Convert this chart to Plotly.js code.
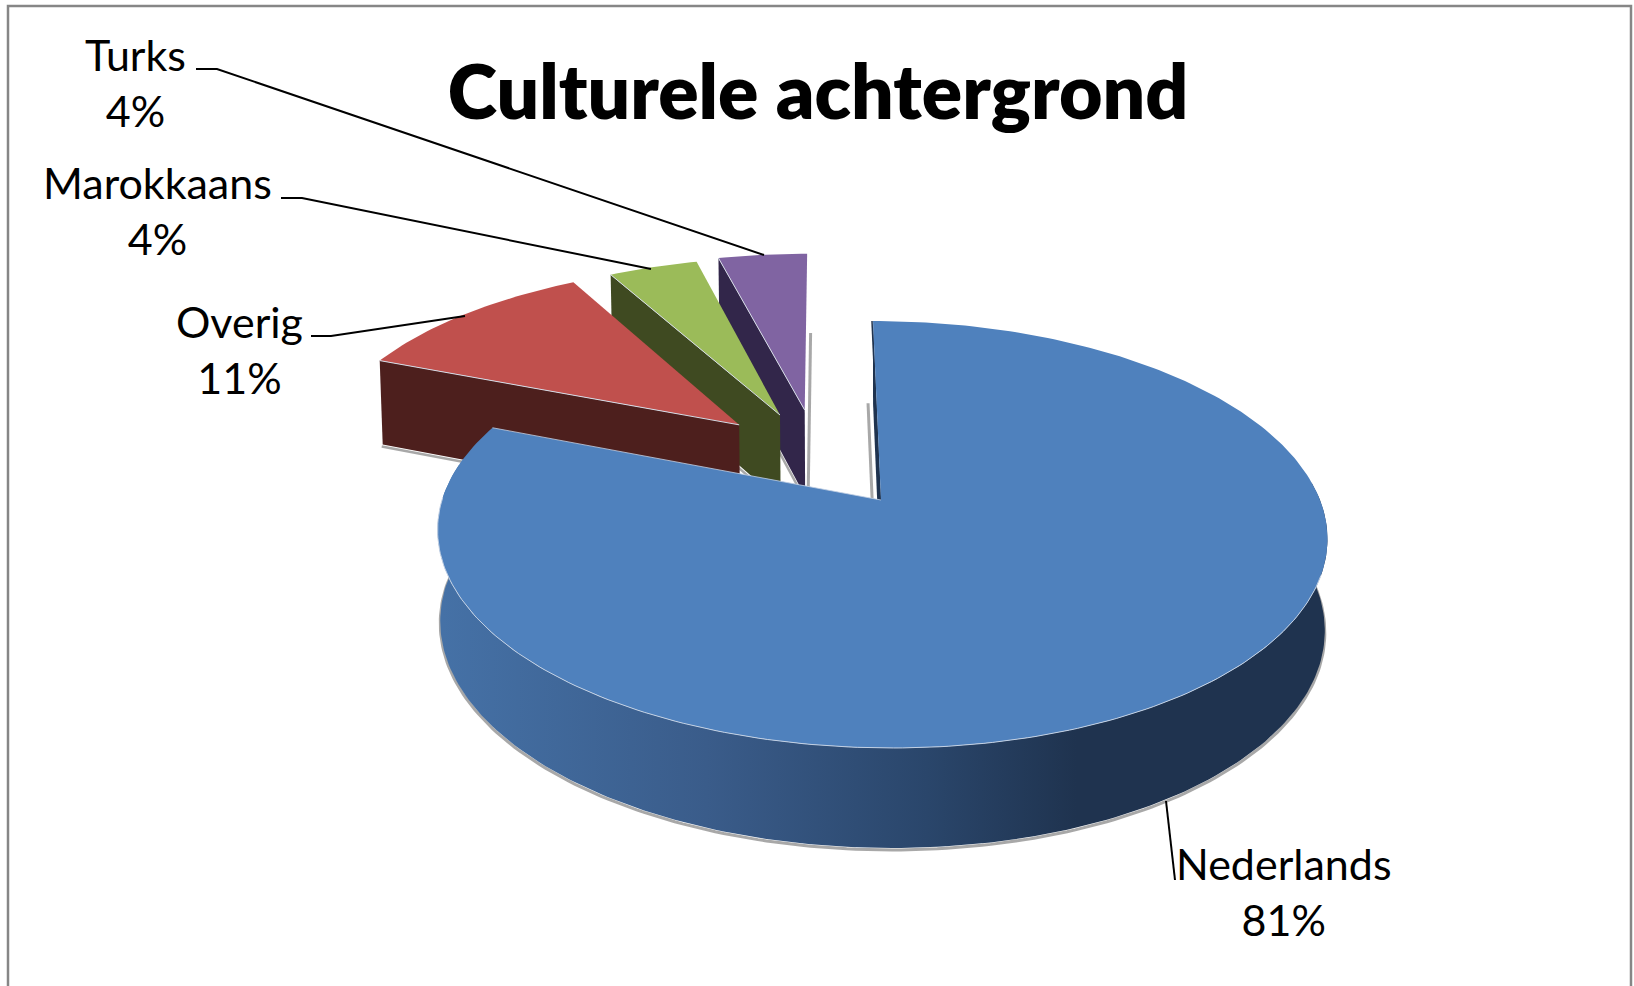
<!DOCTYPE html>
<html>
<head>
<meta charset="utf-8">
<script src="https://cdn.plot.ly/plotly-3.0.1.min.js"></script>
<style>html,body{margin:0;padding:0;background:#fff;overflow:hidden}#chart{width:1634px;height:986px}</style>
</head>
<body>
<div id="chart"></div>
<script>
// ---- data ----
const categories = ['Nederlands', 'Overig', 'Marokkaans', 'Turks'];
const values = [81, 11, 4, 4];
const chartTitle = 'Culturele achtergrond';

// ---- styles ----
const topColors = ['#4f81bd', '#c0504d', '#9bbb59', '#8064a2'];
const sideColors = ['#1f334f', '#4d1f1d', '#3f4a21', '#32264a'];
const explodeX = [0, -0.335, -0.237, -0.177];
const explodeY = [0, 0.384, 0.4377, 0.465];

// ---- view of the 3D pie (unit circle projected on the pixel-sized axes) ----
const view = {cx: 881, cy: 500, a: 439, b: -9.3, d: -207.9, e: 0.1616, depth: 90, shrink: 0.006};
function project(X, Y, low) {
  const w = 1 + view.e * Y;
  const s = low ? 1 - view.shrink : 1;
  return [
    view.cx + s * (view.a * X + view.b * Y) / w,
    view.cy + view.d * Y / w + (low ? view.depth / Math.pow(w, 0.6) : 0)
  ];
}
function rim(th, i) { // th in degrees clockwise from the top
  const r = th * Math.PI / 180;
  return [Math.sin(r) + explodeX[i], Math.cos(r) + explodeY[i]];
}
function rimPts(t0, t1, i, low) {
  const pts = [], n = Math.max(2, Math.ceil(Math.abs(t1 - t0)));
  for (let k = 0; k <= n; k++) {
    const c = rim(t0 + (t1 - t0) * k / n, i);
    pts.push(project(c[0], c[1], low));
  }
  return pts;
}
const apex = (i, low) => project(explodeX[i], explodeY[i], low);
function poly(pts, color, name, extra) {
  return Object.assign({
    type: 'scatter', mode: 'lines', x: pts.map(p => p[0]), y: pts.map(p => p[1]),
    fill: 'toself', fillcolor: color, line: {width: 0, color: color},
    name: name, hoverinfo: 'name', showlegend: false
  }, extra || {});
}
function stroke(pts, color, width, name, dx, dy) {
  return {
    type: 'scatter', mode: 'lines', x: pts.map(p => p[0] + (dx || 0)), y: pts.map(p => p[1] + (dy || 0)),
    line: {width: width, color: color}, name: name, hoverinfo: 'skip', showlegend: false
  };
}

// ---- angles from the values ----
const total = values.reduce((s, v) => s + v, 0);
let run = 0;
const spans = values.map(v => { const a = run; run += v / total * 360; return [a, run]; });

const traces = [];
const edge = '#d5dbe6';
const shadow = 'rgba(110,110,110,0.6)';

// exploded slices, farthest last-drawn order: Turks, Marokkaans, Overig
[3, 2, 1].forEach(i => {
  const [t0, t1] = spans[i];
  const outerTop = rimPts(t0, t0, i, false)[0];
  const outerLow = rimPts(t0, t0, i, true)[0];
  if (i === 3) {
    traces.push(stroke([rimPts(t1, t1, i, true)[0], apex(i, true)], shadow, 3, categories[i] + ' schaduw', 3, 0));
  }
  traces.push(stroke([outerLow, apex(i, true)], shadow, 2.5, categories[i] + ' schaduw', -1, 2));
  traces.push(poly([apex(i, false), outerTop, outerLow, apex(i, true)], sideColors[i], categories[i] + ' zijkant'));
  traces.push(poly([apex(i, false)].concat(rimPts(t0, t1, i, false)), topColors[i], categories[i]));
  traces.push(stroke([outerTop, apex(i, false)], edge, 1, categories[i] + ' rand'));
});

// Nederlands: wall, inner cut and top face
const [n0, n1] = spans[0];
traces.push(stroke([rimPts(n0, n0, 0, true)[0], apex(0, true)], shadow, 3, 'Nederlands schaduw', -5, 0));
traces.push(stroke(rimPts(85, 280, 0, true), shadow, 3, 'Nederlands schaduw', 0, 2));
traces.push(poly([rimPts(n0, n0, 0, false)[0], apex(0, false), apex(0, true), rimPts(n0, n0, 0, true)[0]], sideColors[0], 'Nederlands binnenkant'));
traces.push(poly(rimPts(85, 280, 0, false).concat(rimPts(280, 85, 0, true)), '#2a466b', 'Nederlands zijkant', {
  fillgradient: {
    type: 'horizontal', start: 443, stop: 1323,
    colorscale: [[0, '#4571a6'], [0.3, '#3a5c8a'], [0.55, '#2a466b'], [0.72, '#1f334f'], [1, '#1f334f']]
  }
}));
traces.push(stroke([rimPts(n0, n0, 0, false)[0], apex(0, false)], '#1f334f', 1.5, 'Nederlands binnenrand', -1, 0));
traces.push(poly([apex(0, false)].concat(rimPts(n0, n1, 0, false)), topColors[0], categories[0]));
traces.push(stroke(rimPts(110, n1 - 21, 0, false), '#c3d1e4', 1, 'Nederlands rand'));
traces.push(stroke([rimPts(n1, n1, 0, false)[0], apex(0, false)], '#c3d1e4', 0.8, 'Nederlands rand'));

// ---- labels ----
const labelPos = [[1284, 891], [239, 349], [157, 210], [135, 82]];
const annotations = categories.map((c, i) => ({
  text: c + '<br>' + values[i] + '%',
  x: labelPos[i][0], y: labelPos[i][1], xref: 'x', yref: 'y',
  xanchor: 'center', yanchor: 'middle', align: 'center', showarrow: false,
  font: {family: 'Lato, Carlito, sans-serif', size: 43, color: '#000'}
}));
const leaders = [
  'M1166,801 L1175,880',
  'M311,336 L331,336 L465,316',
  'M281,198 L302,198 L651,269',
  'M196,69 L217,69 L764,255'
];
const shapes = leaders.map(p => ({
  type: 'path', path: p, xref: 'x', yref: 'y', line: {color: '#000', width: 2}
}));
shapes.push({
  type: 'rect', xref: 'x', yref: 'y', x0: 8, x1: 1631, y0: 6, y1: 1000,
  line: {color: '#868686', width: 2.5}, fillcolor: 'rgba(0,0,0,0)', layer: 'below'
});

const layout = {
  width: 1634, height: 986,
  margin: {l: 0, r: 0, t: 0, b: 0},
  paper_bgcolor: '#fff', plot_bgcolor: '#fff',
  showlegend: false,
  title: {
    text: chartTitle, x: 818 / 1634, xanchor: 'center',
    y: 1 - 93 / 986, yanchor: 'middle', yref: 'container',
    font: {family: 'Lato, Carlito, sans-serif', size: 75, color: '#000', weight: 800}
  },
  xaxis: {range: [0, 1634], visible: false, fixedrange: true},
  yaxis: {range: [986, 0], visible: false, fixedrange: true},
  annotations: annotations,
  shapes: shapes
};
Plotly.newPlot('chart', traces, layout, {displayModeBar: false, responsive: false});
</script>
</body>
</html>
